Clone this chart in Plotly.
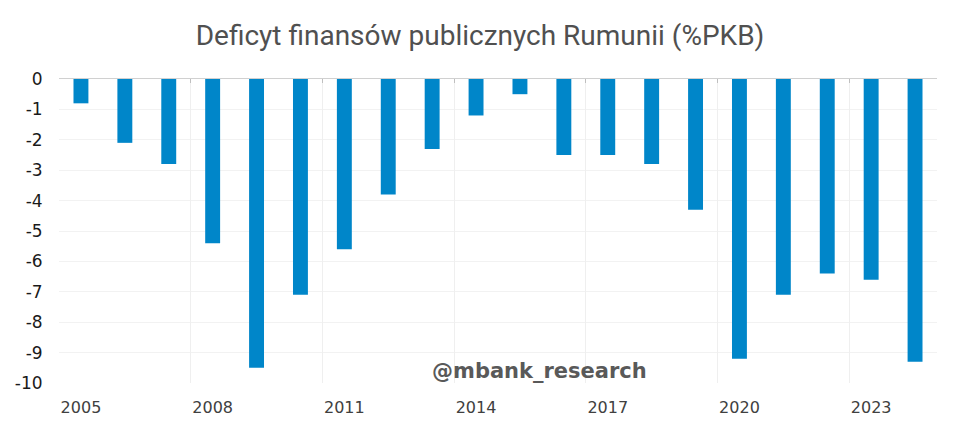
import plotly.graph_objects as go

years = list(range(2005, 2025))
deficit = [-0.8, -2.1, -2.8, -5.4, -9.5, -7.1, -5.6, -3.8, -2.3, -1.2,
           -0.5, -2.5, -2.5, -2.8, -4.3, -9.2, -7.1, -6.4, -6.6, -9.3]
x_ticks = [2005, 2008, 2011, 2014, 2017, 2020, 2023]
y_ticks = list(range(0, -11, -1))

bar_colour = 'rgb(0,134,201)'

fig = go.Figure()

fig.add_trace(go.Bar(
    x=years,
    y=deficit,
    marker=dict(color=bar_colour, line=dict(width=0)),
    width=0.34,
    hoverinfo='x+y',
))

# empty trace just to hang the top axis (zero line ticks + vertical grid) on
fig.add_trace(go.Scatter(x=[years[0]], y=[0], xaxis='x2', mode='markers',
                         marker=dict(opacity=0), hoverinfo='skip'))

fig.update_layout(
    width=960,
    height=430,
    showlegend=False,
    plot_bgcolor='white',
    paper_bgcolor='white',
    margin=dict(l=59, r=23, t=79, b=47),
    title=dict(
        text='Deficyt finansów publicznych Rumunii (%PKB)',
        x=0.5, xanchor='center',
        y=0.918, yanchor='middle',
        font=dict(family='Roboto', size=28, color='#505050'),
    ),
    xaxis=dict(
        range=[2004.5, 2024.5],
        tickvals=x_ticks,
        ticktext=[str(t) for t in x_ticks],
        showgrid=False,
        zeroline=False,
        showline=False,
        ticks='outside',
        ticklen=10,
        tickcolor='rgba(0,0,0,0)',
        tickfont=dict(family='DejaVu Sans', size=16, color='#404040'),
    ),
    xaxis2=dict(
        overlaying='x',
        side='top',
        range=[2004.5, 2024.5],
        tickvals=[2004.5 + 3 * k for k in range(7)],
        showticklabels=False,
        ticks='inside',
        ticklen=4,
        tickcolor='#bfbfbf',
        showgrid=True,
        gridcolor='#efefef',
        gridwidth=1,
        showline=True,
        linecolor='#d0d0d0',
        linewidth=1,
        zeroline=False,
    ),
    yaxis=dict(
        range=[-10, 0],
        tickvals=y_ticks,
        ticktext=[str(t) for t in y_ticks],
        showgrid=True,
        gridcolor='#f2f2f2',
        gridwidth=1,
        zeroline=False,
        showline=False,
        ticks='outside',
        ticklen=12,
        tickcolor='rgba(0,0,0,0)',
        tickfont=dict(family='DejaVu Sans', size=17, color='#1a1a1a'),
    ),
    bargap=0.66,
)

fig.add_annotation(
    text='<b>@mbank_research</b>',
    xref='paper', yref='paper',
    x=(539 - 59) / (960 - 59 - 23), y=(383 - 371) / (383 - 79),
    xanchor='center', yanchor='middle',
    showarrow=False,
    font=dict(family='DejaVu Sans', size=21, color='#595959'),
)

# drop the browser's default 8px body margin so the figure sits at 0,0
fig.write_html('out.html', config={'displayModeBar': False},
               post_script="document.body.style.margin='0';")
